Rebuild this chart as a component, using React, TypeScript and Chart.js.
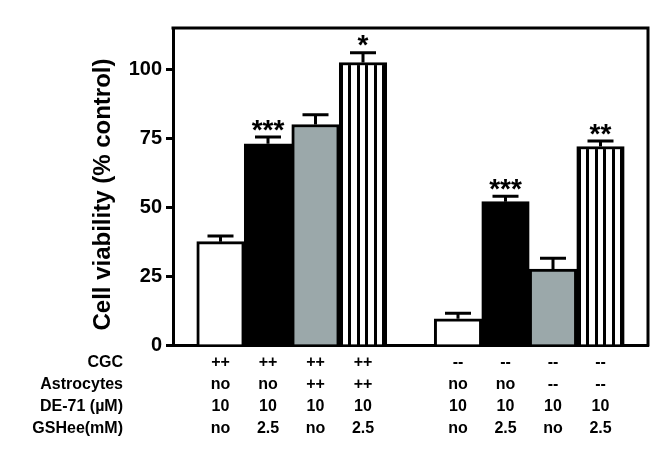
import React, { useEffect, useRef } from 'react';
import { Chart, registerables } from 'chart.js';

Chart.register(...registerables);

// ---- data ----
const CGC = ['++', '++', '++', '++', '--', '--', '--', '--'];
const ASTROCYTES = ['no', 'no', '++', '++', 'no', 'no', '--', '--'];
const DE71 = ['10', '10', '10', '10', '10', '10', '10', '10'];
const GSHEE = ['no', '2.5', 'no', '2.5', 'no', '2.5', 'no', '2.5'];
const ROW_HEADERS = ['CGC', 'Astrocytes', 'DE-71 (\u00b5M)', 'GSHee(mM)'];
const VIABILITY = [37.5, 73, 80, 102.5, 9.5, 52, 27.5, 72];
const SEM = [2, 2.5, 3.5, 3.5, 2, 2, 4, 2];
const SIGNIF = ['', '***', '', '*', '', '***', '', '**'];
const FILLS = ['white', 'black', 'gray', 'stripes', 'white', 'black', 'gray', 'stripes'];
const Y_TICKS = [0, 25, 50, 75, 100];
const Y_MAX = 115;
const Y_TITLE = 'Cell viability (% control)';

const FONT = "'Liberation Sans', Arial, Helvetica, sans-serif";
const GRAY = '#9ba8aa';

function makeStripes(): CanvasPattern | string {
  const c = document.createElement('canvas');
  c.width = 17;
  c.height = 17;
  const g = c.getContext('2d');
  if (!g) return 'white';
  g.fillStyle = 'white';
  g.fillRect(0, 0, 17, 17);
  g.fillStyle = 'black';
  g.fillRect(0, 0, 3, 17);
  g.fillRect(8, 0, 3, 17);
  const p = g.createPattern(c, 'repeat');
  return p || 'white';
}

export default function App() {
  const ref = useRef<HTMLCanvasElement | null>(null);

  useEffect(() => {
    const canvas = ref.current;
    if (!canvas) return;

    const stripes = makeStripes();
    const labels: (string[] | string)[] = [''];
    const data: (number | null)[] = [null];
    const err: (number | null)[] = [null];
    const sig: string[] = [''];
    const colors: any[] = ['white'];
    for (let b = 0; b < VIABILITY.length; b++) {
      if (b === 4) {
        labels.push('');
        data.push(null);
        err.push(null);
        sig.push('');
        colors.push('white');
      }
      labels.push([CGC[b], ASTROCYTES[b], DE71[b], GSHEE[b]]);
      data.push(VIABILITY[b]);
      err.push(SEM[b]);
      sig.push(SIGNIF[b]);
      const f = FILLS[b];
      colors.push(f === 'black' ? 'black' : f === 'gray' ? GRAY : f === 'stripes' ? stripes : 'white');
    }
    labels.push('');
    data.push(null);
    err.push(null);
    sig.push('');
    colors.push('white');

    const LINE_H = 22;
    const TICK_PAD = 7;

    const extras = {
      id: 'extras',
      afterDatasetsDraw(chart: any) {
        const ctx = chart.ctx;
        const meta = chart.getDatasetMeta(0);
        const ys = chart.scales.y;
        ctx.save();
        ctx.strokeStyle = 'black';
        ctx.lineWidth = 3;
        ctx.lineCap = 'butt';
        meta.data.forEach((el: any, i: number) => {
          const v = data[i];
          const e = err[i];
          if (v == null || e == null) return;
          const x = el.x;
          const yb = ys.getPixelForValue(v);
          const yt = ys.getPixelForValue(v + e);
          ctx.beginPath();
          ctx.moveTo(x, yb);
          ctx.lineTo(x, yt);
          ctx.moveTo(x - 13, yt);
          ctx.lineTo(x + 13, yt);
          ctx.stroke();
          if (sig[i]) {
            ctx.fillStyle = 'black';
            ctx.font = `bold 28px ${FONT}`;
            ctx.textAlign = 'center';
            ctx.textBaseline = 'alphabetic';
            ctx.fillText(sig[i], x, yt - 14 + 0.56 * 28);
          }
        });
        ctx.restore();
      },
      afterDraw(chart: any) {
        const ctx = chart.ctx;
        const a = chart.chartArea;
        ctx.save();
        // frame top & right
        ctx.strokeStyle = 'black';
        ctx.lineWidth = 3;
        ctx.beginPath();
        ctx.moveTo(a.left - 1.5, a.top);
        ctx.lineTo(a.right, a.top);
        ctx.lineTo(a.right, a.bottom + 1.5);
        ctx.stroke();
        // y title
        ctx.fillStyle = 'black';
        ctx.font = `bold 24px ${FONT}`;
        ctx.textAlign = 'center';
        ctx.textBaseline = 'middle';
        ctx.translate(a.left - 70, (a.top + a.bottom) / 2 + 8);
        ctx.rotate(-Math.PI / 2);
        ctx.fillText(Y_TITLE, 0, 0);
        ctx.restore();
        // row headers
        ctx.save();
        ctx.fillStyle = 'black';
        ctx.font = `bold 16px ${FONT}`;
        ctx.textAlign = 'right';
        ctx.textBaseline = 'middle';
        const top = chart.scales.x.top;
        ROW_HEADERS.forEach((h, r) => {
          ctx.fillText(h, a.left - 50, top + TICK_PAD + LINE_H / 2 + r * LINE_H);
        });
        ctx.restore();
      },
    };

    const chart = new Chart(canvas, {
      type: 'bar',
      data: {
        labels,
        datasets: [
          {
            data,
            backgroundColor: colors,
            borderColor: 'black',
            borderWidth: 3,
            barPercentage: 1,
            categoryPercentage: 1,
          },
        ],
      },
      options: {
        responsive: false,
        animation: false,
        events: [],
        layout: { padding: { top: 28, right: 21, left: 0, bottom: 0 } },
        plugins: {
          legend: { display: false },
          tooltip: { enabled: false },
        },
        scales: {
          x: {
            type: 'category',
            offset: false,
            grid: { display: false, drawTicks: false },
            border: { display: true, color: 'black', width: 3 },
            ticks: {
              autoSkip: false,
              maxRotation: 0,
              minRotation: 0,
              padding: TICK_PAD,
              color: 'black',
              font: { family: FONT, size: 16, weight: 'bold', lineHeight: LINE_H / 16 },
            },
            afterFit(scale: any) {
              scale.height = 107;
            },
          },
          y: {
            min: 0,
            max: Y_MAX,
            grid: {
              display: true,
              drawOnChartArea: false,
              drawTicks: true,
              tickLength: 7,
              tickWidth: 3,
              tickColor: 'black',
            },
            border: { display: true, color: 'black', width: 3 },
            afterBuildTicks(scale: any) {
              scale.ticks = Y_TICKS.map((v) => ({ value: v }));
            },
            ticks: {
              padding: 4,
              color: 'black',
              font: { family: FONT, size: 20, weight: 'bold' },
            },
            afterFit(scale: any) {
              scale.width = 173;
            },
          },
        },
      },
      plugins: [extras],
    } as any);

    return () => chart.destroy();
  }, []);

  return (
    <canvas
      ref={ref}
      width={669}
      height={452}
      style={{ position: 'absolute', left: 0, top: 0, width: 669, height: 452, background: 'white' }}
    />
  );
}
